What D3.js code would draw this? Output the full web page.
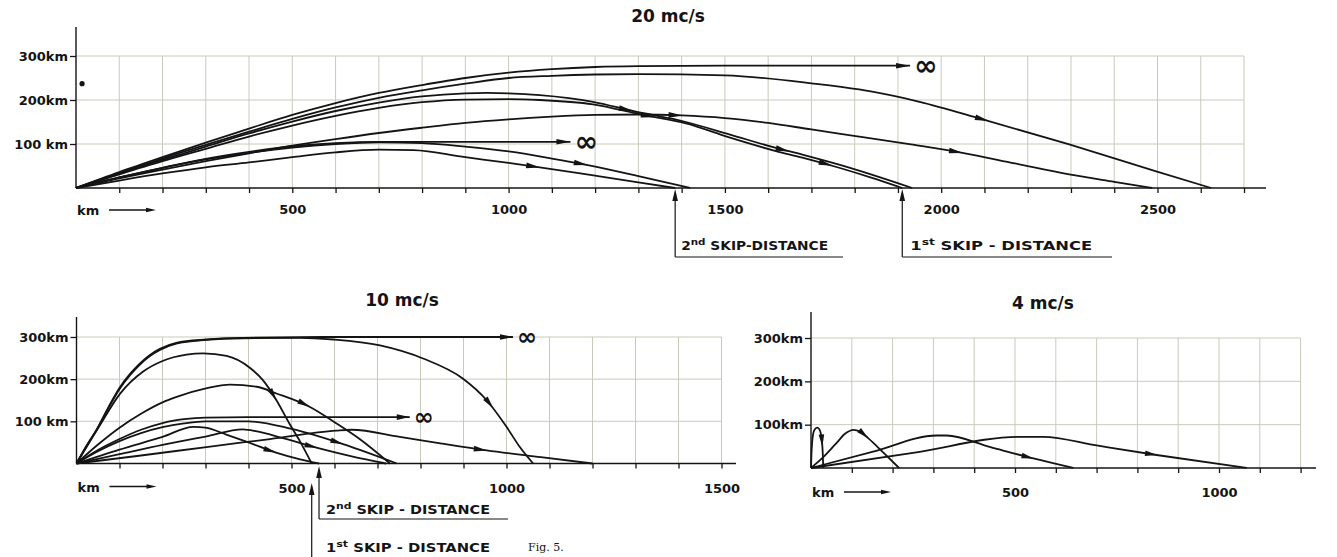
<!DOCTYPE html>
<html><head><meta charset="utf-8">
<script src="https://cdn.jsdelivr.net/npm/d3@7"></script>
<style>
html,body{margin:0;padding:0;background:#fff;}
svg{display:block;}
text{font-family:"DejaVu Sans",sans-serif;font-weight:bold;fill:#141414;}
</style></head><body>
<svg id="c" width="1337" height="557"></svg>
<script>
// ===== DATA (ground distance km, height km) =====
const heightTicks = [100, 200, 300];
const heightLabels20 = ["100 km", "200km", "300km"];
const heightLabels10 = ["100 km", "200km", "300km"];
const heightLabels4 = ["100km", "200km", "300km"];
const distLabels20 = [500, 1000, 1500, 2000, 2500];
const distLabels10 = [500, 1000, 1500];
const distLabels4 = [500, 1000];
const titles = ["20 mc/s", "10 mc/s", "4 mc/s"];

// --- 20 mc/s rays
const r20_A = [[0,0],[100,36],[200,70],[300,103],[400,135],[500,166],[600,193],[700,216],[800,234],[900,250],[1000,262],[1100,270],[1200,275],[1300,277],[1500,278],[1928,278]];
const r20_B = [[0,0],[100,34],[200,67],[300,98],[400,128],[500,157],[600,183],[700,205],[800,222],[900,237],[1000,250],[1100,255],[1200,258],[1300,259],[1500,256],[1700,238],[1810,224],[1950,196],[2096,156],[2296,99],[2497,38],[2624,0]];
const r20_C = [[0,0],[100,33],[200,64],[300,94],[400,124],[500,151],[600,175],[700,194],[800,208],[900,215],[950,216],[1000,215],[1072,211],[1195,196],[1287,175],[1410,150],[1510,122],[1618,91],[1679,76],[1764,53],[1850,27],[1933,0]];
const r20_D = [[0,0],[100,31],[200,61],[300,89],[400,117],[500,142],[600,164],[700,182],[800,195],[900,201],[1000,202],[1072,200],[1195,190],[1310,166],[1410,147],[1510,115],[1618,84],[1679,69],[1764,46],[1840,23],[1910,0]];
const r20_E = [[0,0],[100,22],[200,42],[300,61],[400,79],[500,96],[600,111],[700,125],[800,137],[900,148],[1000,156],[1100,162],[1200,166],[1300,167],[1400,165],[1500,159],[1600,148],[1700,133],[1810,117],[1930,99],[2049,80],[2170,56],[2296,31],[2400,14],[2488,0]];
const r20_F = [[0,0],[100,24],[200,46],[300,66],[400,82],[500,95],[600,102],[700,105],[800,105],[1143,105]];
const r20_F2 = [[0,0],[100,24],[200,46],[300,65],[400,80],[500,92],[600,100],[700,104],[800,102],[900,94],[1000,83],[1100,67],[1183,52],[1300,27],[1420,0]];
const r20_G = [[0,0],[100,17],[200,33],[300,47],[400,58],[500,70],[600,81],[700,87],[780,86],[900,70],[1000,57],[1072,47],[1200,28],[1300,13],[1385,0]];
const arrows20 = [[1928],[2110],[1287,1649],[1337,1748],[1402,2050],[1143],[1183],[1072]];
const infinity20 = [true,false,false,false,false,true,false,false];
const skip20 = [1385, 1910];
const strayDot20 = [[14, 237]];

// --- 10 mc/s rays
const r10_M1 = [[0,0],[25,45],[46,79],[75,135],[101,181],[125,213],[147,237],[170,257],[194,272],[232,286],[302,294],[387,298],[605,300],[1015,300]];
const r10_M2 = [[0,0],[25,44],[46,78],[75,133],[101,178],[125,210],[147,234],[170,254],[194,269],[232,284],[302,293],[387,297],[520,298],[597,294],[706,280],[806,249],[899,201],[954,150],[1000,87],[1031,39],[1062,0]];
const r10_M3 = [[0,0],[27,45],[54,90],[101,165],[155,218],[200,243],[256,258],[295,261],[349,255],[403,227],[434,197],[465,150],[496,93],[520,52],[543,8],[547,0]];
const r10_M4 = [[0,0],[50,45],[100,85],[150,118],[200,145],[233,158],[301,178],[357,187],[419,182],[465,166],[543,134],[600,98],[660,57],[729,0]];
const r10_M5 = [[0,0],[50,32],[100,58],[150,80],[200,96],[250,105],[300,109],[400,110],[775,110]];
const r10_M6 = [[0,0],[50,29],[100,53],[150,72],[200,86],[250,95],[300,100],[400,100],[500,82],[620,46],[745,0]];
const r10_M7 = [[0,0],[100,33],[200,63],[272,87],[300,85],[350,68],[400,50],[464,26],[520,10],[564,0]];
const r10_M8 = [[0,0],[100,22],[200,44],[300,64],[387,81],[420,76],[480,60],[560,37],[640,17],[720,0]];
const r10_M9 = [[0,0],[150,19],[302,39],[450,58],[604,78],[640,80],[752,63],[850,47],[954,31],[1080,15],[1200,0]];
const arrows10 = [[1015],[969],[465],[543],[775],[620],[464],[560],[954]];
const infinity10 = [true,false,false,false,true,false,false,false,false];
const skip10 = [547, 564];

// --- 4 mc/s rays
const r4_R1 = [[0,0],[1,30],[3,62],[6,82],[10,90],[15,93],[20,90],[24,80],[27,60],[29,30],[30,0]];
const r4_R2 = [[0,0],[30,25],[60,55],[85,80],[104,88],[120,84],[140,69],[180,33],[216,0]];
const r4_R3 = [[0,0],[150,37],[308,75],[332,75],[440,48],[545,22],[643,0]];
const r4_R4 = [[0,0],[250,35],[512,72],[569,72],[700,52],[847,30],[1068,0]];
const arrows4 = [[28],[140],[545],[847]];

// ===== DRAWING =====
const svg = d3.select("#c");
const INK = "#141414", GRID = "#cacabc";

function arrowHead(g, px, py, ang, len, hw) {
  const c = Math.cos(ang), s = Math.sin(ang);
  const bx = px - len*c, by = py - len*s;
  g.append("path")
    .attr("d", `M${px},${py}L${bx - hw*s},${by + hw*c}L${bx + hw*s},${by - hw*c}Z`)
    .attr("fill", INK).attr("stroke", "none");
}

function panel(cfg) {
  const g = svg.append("g");
  const x = d3.scaleLinear().domain([0, cfg.gridMax]).range([cfg.x0, cfg.x0 + cfg.gridMax*cfg.kx]);
  const y = d3.scaleLinear().domain([0, 300]).range([cfg.y0, cfg.y0 - 300*cfg.ky]);
  const gridX = d3.range(100, cfg.gridMax + 1, 100);

  g.append("g").selectAll("line").data(gridX).join("line")
    .attr("x1", d => x(d)).attr("x2", d => x(d)).attr("y1", y(0)).attr("y2", y(300))
    .attr("stroke", GRID).attr("stroke-width", 1);
  g.append("g").selectAll("line").data(heightTicks).join("line")
    .attr("x1", x(0)).attr("x2", x(cfg.gridMax)).attr("y1", d => y(d)).attr("y2", d => y(d))
    .attr("stroke", GRID).attr("stroke-width", 1);

  g.append("line").attr("x1", x(0)).attr("x2", cfg.axisEnd).attr("y1", y(0)).attr("y2", y(0))
    .attr("stroke", INK).attr("stroke-width", 1.4);
  g.append("line").attr("x1", x(0)).attr("x2", x(0)).attr("y1", y(0)).attr("y2", cfg.yTop)
    .attr("stroke", INK).attr("stroke-width", 1.4);

  const xa = d3.axisBottom(x).tickValues(gridX).tickSize(5).tickSizeOuter(0)
    .tickFormat(d => cfg.labels.includes(d) ? String(d) : "");
  const gx = g.append("g").attr("transform", `translate(0,${cfg.y0})`).call(xa);
  gx.select(".domain").remove();
  gx.selectAll("line").attr("stroke", INK).attr("stroke-width", 1.3);
  gx.selectAll("text").attr("y", cfg.xLabelOff).attr("dy", null).attr("fill", INK)
    .style("font-size", "13px");

  const ya = d3.axisLeft(y).tickValues(heightTicks).tickSize(6).tickSizeOuter(0)
    .tickFormat((d, i) => cfg.yLabels[i]);
  const gy = g.append("g").attr("transform", `translate(${cfg.x0},0)`).call(ya);
  gy.select(".domain").remove();
  gy.selectAll("line").attr("stroke", INK).attr("stroke-width", 1.3);
  gy.selectAll("text").attr("x", -8).attr("fill", INK).style("font-size", "13px");

  g.append("text").attr("x", x(0) + 1).attr("y", cfg.y0 + cfg.kmOff).style("font-size", "13px").text("km");
  g.append("line").attr("x1", x(0) + 33).attr("x2", x(0) + 74)
    .attr("y1", cfg.y0 + cfg.kmOff - 5).attr("y2", cfg.y0 + cfg.kmOff - 5)
    .attr("stroke", INK).attr("stroke-width", 1.3);
  arrowHead(g, x(0) + 80, cfg.y0 + cfg.kmOff - 5, 0, 10, 2.3);

  g.append("text").attr("x", cfg.titleX).attr("y", cfg.titleY).attr("text-anchor", "middle")
    .style("font-size", "17px").text(cfg.title);

  const line = d3.line().x(d => x(d[0])).y(d => y(d[1])).curve(d3.curveMonotoneX);
  cfg.rays.forEach((ray, i) => {
    const p = g.append("path").attr("d", line(ray)).attr("fill", "none")
      .attr("stroke", INK).attr("stroke-width", 1.8).attr("stroke-linejoin", "round");
    const node = p.node(), L = node.getTotalLength();
    (cfg.arrows[i] || []).forEach(km => {
      const tx = x(km);
      let s = L;
      for (let t = 0; t <= L; t += 0.5) { if (node.getPointAtLength(t).x >= tx - 0.05) { s = t; break; } }
      const a = node.getPointAtLength(s), b = node.getPointAtLength(Math.max(0, s - 3));
      const ang = Math.atan2(a.y - b.y, a.x - b.x);
      arrowHead(g, a.x, a.y, ang, cfg.arrowLen, 2.8);
    });
    if (cfg.inf && cfg.inf[i]) {
      const end = ray[ray.length - 1];
      g.append("text").attr("x", x(end[0]) + cfg.infGap).attr("y", y(end[1]))
        .attr("dominant-baseline", "central").attr("text-anchor", "start")
        .style("font-size", cfg.infSize + "px").style("font-weight", "bold").text("\u221E");
    }
  });
  return {g, x, y};
}

function skipMark(g, px, tipY, lineBottom, hEnd, num, sup, rest, tx, ty, tlen) {
  g.append("line").attr("x1", px).attr("x2", px).attr("y1", tipY + 4).attr("y2", lineBottom)
    .attr("stroke", INK).attr("stroke-width", 1.2);
  arrowHead(g, px, tipY, -Math.PI/2, 12, 2.8);
  if (hEnd) {
    g.append("line").attr("x1", px).attr("x2", hEnd).attr("y1", lineBottom).attr("y2", lineBottom)
      .attr("stroke", INK).attr("stroke-width", 1.2);
  }
  const t = g.append("text").attr("x", tx).attr("y", ty).style("font-size", "12px")
    .attr("textLength", tlen).attr("lengthAdjust", "spacingAndGlyphs");
  t.append("tspan").text(num);
  t.append("tspan").attr("dy", -5).style("font-size", "9px").text(sup);
  t.append("tspan").attr("dy", 5).text(rest);
}

// ---- 20 mc/s
const P20 = panel({
  x0: 76, kx: 0.4326, gridMax: 2700, axisEnd: 1266, y0: 188, ky: 0.44, yTop: 27,
  labels: distLabels20, yLabels: heightLabels20, xLabelOff: 26, kmOff: 27,
  title: titles[0], titleX: 668, titleY: 22,
  rays: [r20_A, r20_B, r20_C, r20_D, r20_E, r20_F, r20_F2, r20_G],
  arrows: arrows20, inf: infinity20, infGap: 4, infSize: 28, arrowLen: 14
});
P20.g.selectAll("circle.dot").data(strayDot20).join("circle")
  .attr("cx", d => P20.x(d[0])).attr("cy", d => P20.y(d[1])).attr("r", 2.6).attr("fill", INK);
skipMark(P20.g, P20.x(skip20[0]), 189, 257, 843, "2", "nd", " SKIP-DISTANCE", P20.x(skip20[0]) + 6, 250, 147);
skipMark(P20.g, P20.x(skip20[1]), 189, 257, 1112, "1", "st", " SKIP - DISTANCE", P20.x(skip20[1]) + 8, 250, 182);

// ---- 10 mc/s
const P10 = panel({
  x0: 76.5, kx: 0.43, gridMax: 1500, axisEnd: 736, y0: 463.5, ky: 0.4217, yTop: 317,
  labels: distLabels10, yLabels: heightLabels10, xLabelOff: 29, kmOff: 28,
  title: titles[1], titleX: 402, titleY: 306,
  rays: [r10_M1, r10_M2, r10_M3, r10_M4, r10_M5, r10_M6, r10_M7, r10_M8, r10_M9],
  arrows: arrows10, inf: infinity10, infGap: 4, infSize: 24, arrowLen: 13
});
skipMark(P10.g, P10.x(skip10[1]), 466, 519, 508, "2", "nd", " SKIP - DISTANCE", 326, 514, 164);
skipMark(P10.g, P10.x(skip10[0]), 483, 557, null, "1", "st", " SKIP - DISTANCE", 326, 552, 164);

// ---- 4 mc/s
const P4 = panel({
  x0: 811, kx: 0.408, gridMax: 1200, axisEnd: 1316, y0: 468, ky: 0.4333, yTop: 312,
  labels: distLabels4, yLabels: heightLabels4, xLabelOff: 29, kmOff: 29,
  title: titles[2], titleX: 1043, titleY: 309,
  rays: [r4_R1, r4_R2, r4_R3, r4_R4],
  arrows: arrows4, inf: null, infGap: 4, infSize: 24, arrowLen: 12
});

svg.append("text").attr("x", 528).attr("y", 551).style("font-family", "'DejaVu Serif', serif")
  .style("font-weight", "normal").style("font-size", "11px").attr("fill", "#8a8a8a").text("Fig. 5.");
</script>
</body></html>
